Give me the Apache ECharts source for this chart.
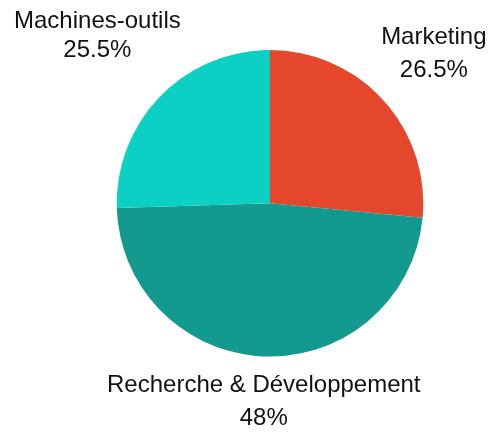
<!DOCTYPE html>
<html>
<head>
<meta charset="utf-8">
<script src="https://cdn.jsdelivr.net/npm/echarts@6/dist/echarts.min.js"></script>
<style>
html,body{margin:0;padding:0;background:#fff;}
#chart{width:502px;height:438px;}
</style>
</head>
<body>
<div id="chart"></div>
<script>
const categories = ['Marketing', 'Recherche & Développement', 'Machines-outils'];
const shares = [26.5, 48, 25.5];
const sliceColors = ['#E5472D', '#139A8E', '#0BD0C3'];
const lineHeights = [33, 33, 29];

const CX = 270, CY = 203.3, R = 153.3, GAP = 7;
const total = shares.reduce((a, b) => a + b, 0);

function midAngle(i) {
  let before = 0;
  for (let k = 0; k < i; k++) before += shares[k];
  return ((before + shares[i] / 2) / total) * 2 * Math.PI;
}

const chart = echarts.init(document.getElementById('chart'), null, {renderer: 'canvas'});
chart.setOption({
  animation: false,
  backgroundColor: '#ffffff',
  series: [{
    type: 'pie',
    center: [CX, CY],
    radius: R,
    startAngle: 90,
    clockwise: true,
    avoidLabelOverlap: false,
    silent: true,
    label: {
      show: true,
      position: 'outside',
      formatter: '{b}\n{c}%',
      fontFamily: 'Liberation Sans, Arial, sans-serif',
      fontSize: 24,
      color: '#111',
      align: 'center'
    },
    labelLine: {show: false},
    labelLayout: function (params) {
      const i = params.dataIndex;
      const a = midAngle(i);
      const dx = Math.sin(a), dy = -Math.cos(a);
      const w = params.labelRect.width, h = params.labelRect.height;
      const dist = R + GAP + Math.abs(dx) * w / 2 + Math.abs(dy) * h / 2;
      return {
        x: CX + dx * dist,
        y: CY + dy * dist,
        align: 'center',
        verticalAlign: 'middle'
      };
    },
    itemStyle: {borderWidth: 0},
    data: categories.map((name, i) => ({
      name: name,
      value: shares[i],
      itemStyle: {color: sliceColors[i]},
      label: {lineHeight: lineHeights[i]}
    }))
  }]
});
</script>
</body>
</html>
